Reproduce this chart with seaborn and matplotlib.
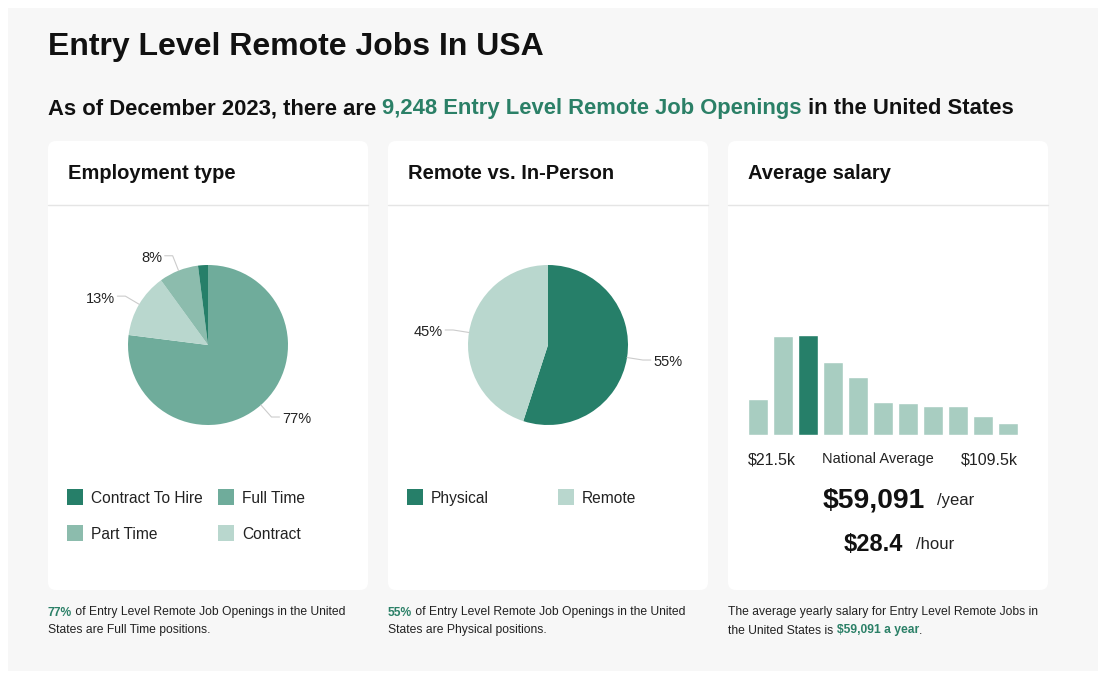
import numpy as np
import pandas as pd
import matplotlib.pyplot as plt
import seaborn as sns
from matplotlib.patches import FancyBboxPatch, Rectangle

W, H = 1110, 695

# --- data ---
emp_labels = ["Full Time", "Contract", "Part Time", "Contract To Hire"]
emp_values = [77, 13, 8, 2]
emp_pct = ["77%", "13%", "8%", ""]
legend_emp = ["Contract To Hire", "Full Time", "Part Time", "Contract"]

loc_labels = ["Physical", "Remote"]
loc_values = [55, 45]
loc_pct = ["55%", "45%"]

salary_bins = list(range(11))
salary_counts = [36, 99, 100, 73, 58, 33, 32.5, 29, 29, 19, 12]
highlight_bin = 2

DARK = "#267f69"
GREEN_TXT = "#2b8067"
colors = {"Full Time": "#6fac9b", "Contract": "#b9d7ce",
          "Part Time": "#8cbcad", "Contract To Hire": DARK,
          "Physical": DARK, "Remote": "#b9d7ce"}
BAR_LIGHT = "#a8cdc1"

sns.set_theme(style="white")
plt.rcParams['font.family'] = ['Liberation Sans', 'DejaVu Sans']

fig = plt.figure(figsize=(W / 100, H / 100), dpi=100)
fig.patch.set_facecolor("white")
renderer = fig.canvas.get_renderer()


def inch(x, y):
    return x / 100, (H - y) / 100


def px_axes(x0, y0, x1, y1):
    ax = fig.add_axes([x0 / W, 1 - y1 / H, (x1 - x0) / W, (y1 - y0) / H])
    ax.set_zorder(5)
    ax.patch.set_alpha(0)
    return ax


def txt(x, y, s, size, color="#111111", weight="normal", ha="left", va="center"):
    t = fig.text(x / W, 1 - (y + 1.5) / H, s, fontsize=size, color=color,
                 fontweight=weight, ha=ha, va=va)
    t.set_zorder(6)
    return t


def runs(x, y, parts, size):
    for s, color, weight in parts:
        t = txt(x, y, s, size, color, weight)
        bb = t.get_window_extent(renderer)
        x = bb.x1


# background panel
bx, by = inch(8, 671)
fig.patches.append(Rectangle((bx, by), 10.90, 6.63, transform=fig.dpi_scale_trans,
                             facecolor="#f7f7f7", edgecolor="none", zorder=0))

# cards
card_x = [48, 388, 728]
card_titles = ["Employment type", "Remote vs. In-Person", "Average salary"]
for cx, title in zip(card_x, card_titles):
    x0, y0 = inch(cx, 590)
    fig.patches.append(FancyBboxPatch((x0, y0), 3.20, 4.49,
                                      boxstyle="round,pad=0,rounding_size=0.08",
                                      transform=fig.dpi_scale_trans,
                                      facecolor="white", edgecolor="none", zorder=1))
    lx0, ly = inch(cx, 204.5)
    fig.lines.append(plt.Line2D([lx0, lx0 + 3.20], [ly, ly], transform=fig.dpi_scale_trans,
                                color="#e5e5e5", lw=1, zorder=2))
    txt(cx + 20, 172, title, 14.5, weight="bold")

# headline
txt(48, 46, "Entry Level Remote Jobs In USA", 23, weight="bold")
runs(48, 107, [("As of December 2023, there are ", "#111111", "bold"),
               ("9,248 Entry Level Remote Job Openings", GREEN_TXT, "bold"),
               (" in the United States", "#111111", "bold")], 15.85)


def draw_pie(cx, cy, labels, values, pct):
    ax = px_axes(cx - 120, cy - 120, cx + 120, cy + 120)
    wedges, _ = ax.pie(values, colors=[colors[l] for l in labels],
                       startangle=90, counterclock=False,
                       wedgeprops=dict(linewidth=0))
    for w, p in zip(wedges, pct):
        if not p:
            continue
        a = np.deg2rad((w.theta1 + w.theta2) / 2)
        ex, ey = 1.2 * np.cos(a), 1.2 * np.sin(a)
        side = 1 if np.cos(a) >= 0 else -1
        end = ex + 0.1 * side
        ax.plot([np.cos(a), ex, end], [np.sin(a), ey, ey],
                color="#cccccc", lw=0.8)
        ax.text(end + 0.03 * side, ey - 0.03, p, fontsize=10.5, color="#222222",
                ha="left" if side > 0 else "right", va="center")
    ax.set_xlim(-1.5, 1.5)
    ax.set_ylim(-1.5, 1.5)
    ax.set_aspect("equal")
    ax.axis("off")


draw_pie(208, 345, emp_labels, emp_values, emp_pct)
draw_pie(548, 345, loc_labels, loc_values, loc_pct)


def draw_legend(x, y, items):
    for i, name in enumerate(items):
        col, row = i % 2, i // 2
        lx = x + col * 151
        ly = y + row * 36
        sx, sy = inch(lx, ly + 8)
        fig.patches.append(Rectangle((sx, sy), 0.16, 0.16, transform=fig.dpi_scale_trans,
                                     facecolor=colors[name], edgecolor="none", zorder=3))
        txt(lx + 24, ly, name, 11.2, color="#222222")


draw_legend(67, 497, legend_emp)
draw_legend(407, 497, loc_labels)

# salary histogram
df = pd.DataFrame({"bin": salary_bins, "count": salary_counts,
                   "group": ["avg" if b == highlight_bin else "other" for b in salary_bins]})
axb = px_axes(748, 335, 1018, 435)
sns.barplot(data=df, x="bin", y="count", hue="group",
            palette={"avg": DARK, "other": BAR_LIGHT},
            dodge=False, width=0.8, legend=False, ax=axb, saturation=1)
axb.set_xlim(-0.4, 10.4)
axb.set_ylim(0, max(salary_counts))
axb.axis("off")

txt(748, 458, "$21.5k", 11.5, color="#222222")
txt(878, 458, "National Average", 10.5, color="#222222", ha="center")
txt(1018, 458, "$109.5k", 11.5, color="#222222", ha="right")
txt(874, 499, "$59,091", 20.3, weight="bold", ha="center")
txt(937, 499, "/year", 12, color="#222222")
txt(873, 543, "$28.4", 17, weight="bold", ha="center")
txt(916, 543, "/hour", 12, color="#222222")

# footers
FS = 8.7
runs(48, 611, [("77%", GREEN_TXT, "bold"),
               (" of Entry Level Remote Job Openings in the United", "#222222", "normal")], FS)
txt(48, 629, "States are Full Time positions.", FS, color="#222222")
runs(388, 611, [("55%", GREEN_TXT, "bold"),
                (" of Entry Level Remote Job Openings in the United", "#222222", "normal")], FS)
txt(388, 629, "States are Physical positions.", FS, color="#222222")
txt(728, 611, "The average yearly salary for Entry Level Remote Jobs in", FS, color="#222222")
runs(728, 629, [("the United States is ", "#222222", "normal"),
                ("$59,091 a year", GREEN_TXT, "bold"),
                (".", "#222222", "normal")], FS)

fig.savefig("out.png", dpi=100, facecolor="white")
